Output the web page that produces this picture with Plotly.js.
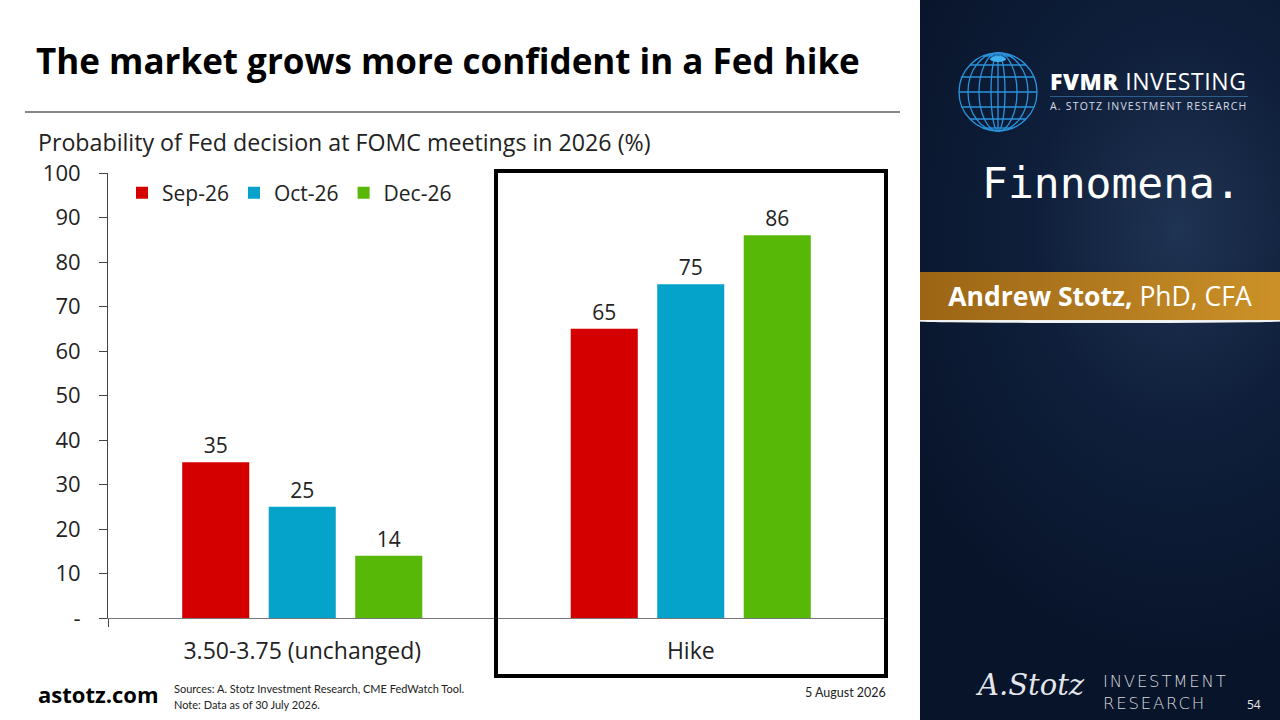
<!DOCTYPE html>
<html>
<head>
<meta charset="utf-8">
<script src="https://cdn.plot.ly/plotly-3.0.1.min.js"></script>
<style>
    html, body { margin: 0; padding: 0; width: 1280px; height: 720px; overflow: hidden; background: #fff; }
    #grafico { position: absolute; left: 0; top: 0; width: 1280px; height: 720px; }
    .painel {
        position: absolute; left: 920px; top: 0; width: 360px; height: 720px;
        background: radial-gradient(ellipse 90% 60% at 72% 32%, #1f3352 0%, #0f1f3b 45%, #08142a 100%);
        font-family: "Open Sans", sans-serif; color: #fff;
    }
    .painel .globo { position: absolute; left: 37px; top: 51px; }
    .painel .fvmr { position: absolute; left: 130px; top: 65px; font-size: 23px; letter-spacing: 0.6px; white-space: nowrap; }
    .painel .fvmr b { font-weight: 800; }
    .painel .fvmrLinha { position: absolute; left: 130px; top: 96px; width: 198px; height: 1px; background: #2d5d8c; }
    .painel .fvmrSub { position: absolute; left: 130px; top: 99px; font-size: 10.5px; letter-spacing: 1.2px; color: #d8dde6; white-space: nowrap; }
    .painel .finno { position: absolute; left: 62px; top: 158px; font-family: "DejaVu Sans Mono", monospace; font-size: 43px; letter-spacing: 0px; }
    .painel .faixa {
        position: absolute; left: 0; top: 272px; width: 360px; height: 48px;
        background: linear-gradient(90deg, #9c6514 0%, #b27a1f 50%, #cc9228 100%);
        font-family: "Open Sans", sans-serif; font-size: 26.5px; line-height: 48px; text-align: center; white-space: nowrap;
    }
    .painel .faixaLinha { position: absolute; left: 0; top: 320px; width: 360px; height: 3px; background: #f2f2f2; border-radius: 0 0 50% 50%; }
    .painel .assin { position: absolute; left: 58px; top: 668px; font-family: "DejaVu Serif", serif; font-style: italic; font-size: 29px; color: #e3e6ea; }
    .painel .invres { position: absolute; left: 183px; top: 671px; font-size: 16.5px; line-height: 22px; letter-spacing: 1.8px; color: #d6d9de; font-family: "DejaVu Sans", sans-serif; font-weight: 300; }
    .painel .pag { position: absolute; left: 327px; top: 696px; font-size: 12px; color: #e6e6e6; }
</style>
</head>
<body>
<div id="grafico"></div>
<div class="painel">
    <svg class="globo" width="82" height="82" viewBox="-41 -41 82 82">
        <g fill="none" stroke="#2b93dc" stroke-width="1.3">
            <circle r="39"/>
            <ellipse rx="30" ry="39"/>
            <ellipse rx="19" ry="39"/>
            <ellipse rx="7" ry="39"/>
            <line x1="0" y1="-39" x2="0" y2="39"/>
            <line x1="-39" y1="0" x2="39" y2="0"/>
            <line x1="-36" y1="-15" x2="36" y2="-15"/>
            <line x1="-36" y1="15" x2="36" y2="15"/>
            <line x1="-28" y1="-27" x2="28" y2="-27"/>
            <line x1="-28" y1="27" x2="28" y2="27"/>
            <line x1="-15" y1="-36" x2="15" y2="-36"/>
            <line x1="-15" y1="36" x2="15" y2="36"/>
        </g>
        <ellipse cx="0" cy="-33" rx="8" ry="3" fill="#3fb0f0"/>
    </svg>
    <div class="fvmr"><b>FVMR</b> INVESTING</div>
    <div class="fvmrLinha"></div>
    <div class="fvmrSub">A. STOTZ INVESTMENT RESEARCH</div>
    <div class="finno">Finnomena.</div>
    <div class="faixa"><b>Andrew Stotz,</b> PhD, CFA</div>
    <div class="faixaLinha"></div>
    <div class="assin">A.Stotz</div>
    <div class="invres">INVESTMENT<br>RESEARCH</div>
    <div class="pag">54</div>
</div>
<script>
// Dados
const categorias = ["3.50-3.75 (unchanged)", "Hike"];
const reunioes = ["Sep-26", "Oct-26", "Dec-26"];
const probSep = [35, 65];
const probOct = [25, 75];
const probDec = [14, 86];
const yTicks = [0, 10, 20, 30, 40, 50, 60, 70, 80, 90, 100];
const yTickTexto = ["-", "10", "20", "30", "40", "50", "60", "70", "80", "90", "100"];
const cores = ["#d40000", "#05a2c9", "#57b808"];

const fonte = "'Open Sans', Lato, sans-serif";
const fonteNota = "Lato, sans-serif";

// Grafico
const series = [probSep, probOct, probDec];
var data = series.map((vals, i) => ({
    x: categorias,
    y: vals,
    type: 'bar',
    name: reunioes[i],
    marker: {color: cores[i]},
    text: vals.map(String),
    textposition: 'outside',
    textfont: {size: 21, color: '#222', family: fonte},
    cliponaxis: false,
    hoverinfo: 'skip'
}));

//// Coordenadas de pixel para paper (area do plot: x 108-885, y 173-618)
const px = p => (p - 108) / 777;
const py = p => (618 - p) / 445;

var layout = {
    width: 1280,
    height: 720,
    margin: { l: 108, r: 395, t: 173, b: 102 },
    paper_bgcolor: '#fff',
    plot_bgcolor: '#fff',
    font: {family: fonte, color: '#222'},
    barmode: 'group',
    bargap: 0.332,
    bargroupgap: 0.225,
    showlegend: true,
    legend: {
        orientation: 'h',
        x: px(122), xanchor: 'left',
        y: py(193), yanchor: 'middle',
        font: {size: 21, family: fonte, color: '#222'},
        bgcolor: 'rgba(0,0,0,0)',
        tracegroupgap: 0,
        itemclick: false
    },
    xaxis: {
        type: 'category',
        showline: true,
        linecolor: '#777',
        linewidth: 1,
        ticks: 'outside',
        tickson: 'boundaries',
        ticklen: 8,
        tickcolor: '#444',
        tickfont: {size: 23, family: fonte, color: '#222'},
        ticklabelstandoff: 12,
        showgrid: false,
        zeroline: false,
        fixedrange: true
    },
    yaxis: {
        range: [0, 100],
        tickvals: yTicks,
        ticktext: yTickTexto,
        showline: true,
        linecolor: '#444',
        linewidth: 1,
        ticks: 'outside',
        ticklen: 8,
        tickcolor: '#444',
        tickfont: {size: 22, family: fonte, color: '#222'},
        ticklabelstandoff: 14,
        showgrid: false,
        zeroline: false,
        fixedrange: true
    },
    shapes: [
        {type: 'line', xref: 'paper', yref: 'paper', x0: px(25), x1: px(900), y0: py(112), y1: py(112),
         line: {color: '#111', width: 1.2}},
        {type: 'rect', xref: 'paper', yref: 'paper', x0: px(496), x1: px(886), y0: py(171), y1: py(676),
         line: {color: '#000', width: 4}, layer: 'above'}
    ],
    annotations: [
        {text: "<b>The market grows more confident in a Fed hike</b>", xref: 'paper', yref: 'paper',
         x: px(34), y: py(60), xanchor: 'left', yanchor: 'middle', showarrow: false,
         font: {size: 35, family: fonte, color: '#000'}},
        {text: "Probability of Fed decision at FOMC meetings in 2026 (%)", xref: 'paper', yref: 'paper',
         x: px(36), y: py(142), xanchor: 'left', yanchor: 'middle', showarrow: false,
         font: {size: 23.2, family: fonte, color: '#222'}},
        {text: "<b>astotz.com</b>", xref: 'paper', yref: 'paper',
         x: px(36), y: py(694), xanchor: 'left', yanchor: 'middle', showarrow: false,
         font: {size: 22, family: fonte, color: '#000'}},
        {text: "Sources: A. Stotz Investment Research, CME FedWatch Tool.", xref: 'paper', yref: 'paper',
         x: px(172), y: py(688), xanchor: 'left', yanchor: 'middle', showarrow: false,
         font: {size: 11, family: fonteNota, color: '#222'}},
        {text: "Note: Data as of 30 July 2026.", xref: 'paper', yref: 'paper',
         x: px(172), y: py(704), xanchor: 'left', yanchor: 'middle', showarrow: false,
         font: {size: 11, family: fonteNota, color: '#222'}},
        {text: "5 August 2026", xref: 'paper', yref: 'paper',
         x: px(888), y: py(692), xanchor: 'right', yanchor: 'middle', showarrow: false,
         font: {size: 12.5, family: fonteNota, color: '#222'}}
    ]
};

Plotly.newPlot('grafico', data, layout, {displayModeBar: false, staticPlot: true});
</script>
</body>
</html>
